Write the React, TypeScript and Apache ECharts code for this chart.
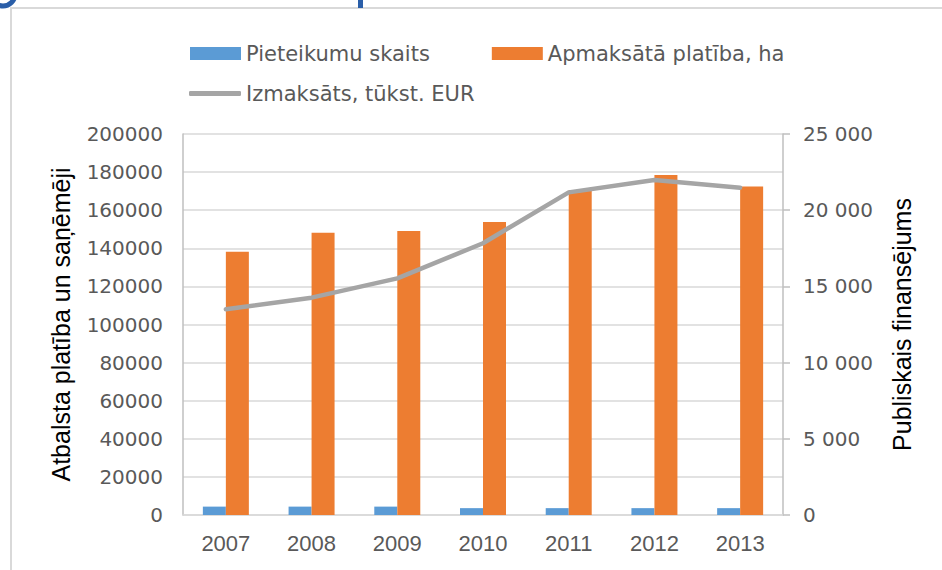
import React, { useEffect, useRef } from "react";
import * as echarts from "echarts";

const years = ["2007", "2008", "2009", "2010", "2011", "2012", "2013"];
const applications = [4400, 4400, 4400, 3600, 3600, 3600, 3600];
const paidArea = [138200, 148200, 149100, 153800, 170600, 178500, 172500];
const paidOut = [13500, 14260, 15530, 17830, 21170, 21980, 21480];

const nameApps = "Pieteikumu skaits";
const nameArea = "Apmaksātā platība, ha";
const namePaid = "Izmaksāts, tūkst. EUR";

const txt = "#595959";
const font = "Liberation Sans, Arial, sans-serif";
const wideFont = "DejaVu Sans, Liberation Sans, sans-serif";

export default function App() {
  const ref = useRef<HTMLDivElement>(null);
  useEffect(() => {
    if (!ref.current) return;
    const chart = echarts.init(ref.current, undefined, { renderer: "svg" });
    chart.setOption({
      animation: false,
      backgroundColor: "#ffffff",
      textStyle: { fontFamily: font, color: txt },
      graphic: [
        { type: "line", shape: { x1: 10, y1: 8, x2: 942, y2: 8 }, style: { stroke: "#d9d9d9", lineWidth: 2 } },
        { type: "line", shape: { x1: 11, y1: 8, x2: 11, y2: 570 }, style: { stroke: "#d9d9d9", lineWidth: 2 } },
        { type: "arc", shape: { cx: 3, cy: -6, r: 12, startAngle: 0, endAngle: Math.PI }, style: { stroke: "#2a5ea8", lineWidth: 5, fill: "none" } },
        { type: "rect", shape: { x: 358, y: 0, width: 5, height: 8 }, style: { fill: "#2a5ea8" } },
      ],
      legend: [
        {
          data: [nameApps, nameArea],
          left: 185,
          top: 38,
          itemWidth: 51,
          itemHeight: 13,
          itemGap: 62,
          icon: "rect",
          textStyle: { fontSize: 21, color: txt, fontFamily: wideFont },
        },
        {
          data: [{ name: namePaid, icon: "roundRect" }],
          left: 184,
          top: 78,
          itemWidth: 52,
          itemHeight: 5,
          textStyle: { fontSize: 21, color: txt, fontFamily: wideFont },
        },
      ],
      grid: { left: 183, right: 159, top: 134, bottom: 55 },
      xAxis: {
        type: "category",
        data: years,
        axisLine: { show: true, lineStyle: { color: "#d9d9d9", width: 1.5 } },
        axisTick: { show: false },
        axisLabel: { fontSize: 22, color: txt, margin: 17, fontFamily: font },
      },
      yAxis: [
        {
          type: "value",
          min: 0,
          max: 200000,
          interval: 20000,
          name: "Atbalsta platība un saņēmēji",
          nameLocation: "middle",
          nameRotate: 90,
          nameGap: 110,
          nameTextStyle: { fontSize: 25, color: "#000000", fontFamily: font },
          axisLine: { show: true, lineStyle: { color: "#bfbfbf", width: 1.5 } },
          axisTick: { show: false },
          axisLabel: {
            fontSize: 20,
            color: txt,
            margin: 20,
            fontFamily: wideFont,
            formatter: (v: number) => String(v),
          },
          splitLine: { show: true, lineStyle: { color: "#d9d9d9", width: 1.5 } },
        },
        {
          type: "value",
          min: 0,
          max: 25000,
          interval: 5000,
          name: "Publiskais finansējums",
          nameLocation: "middle",
          nameRotate: 90,
          nameGap: 106,
          nameTextStyle: { fontSize: 25, color: "#000000", fontFamily: font },
          axisLine: { show: true, lineStyle: { color: "#bfbfbf", width: 1.5 } },
          axisTick: { show: true, length: 7, lineStyle: { color: "#bfbfbf", width: 1.5 } },
          axisLabel: {
            fontSize: 20,
            color: txt,
            margin: 20,
            fontFamily: wideFont,
            formatter: (v: number) => String(v).replace(/\B(?=(\d{3})+(?!\d))/g, " "),
          },
          splitLine: { show: false },
        },
      ],
      series: [
        {
          name: nameApps,
          type: "bar",
          data: applications,
          barWidth: 23,
          barGap: "0%",
          itemStyle: { color: "#5b9bd5" },
        },
        {
          name: nameArea,
          type: "bar",
          data: paidArea,
          barWidth: 23,
          barGap: "0%",
          itemStyle: { color: "#ed7d31" },
        },
        {
          name: namePaid,
          type: "line",
          yAxisIndex: 1,
          data: paidOut,
          symbol: "none",
          smooth: false,
          lineStyle: { color: "#a5a5a5", width: 4.5, cap: "round", join: "round" },
          itemStyle: { color: "#a5a5a5" },
        },
      ],
    });
    return () => chart.dispose();
  }, []);
  return <div ref={ref} style={{ width: 942, height: 570, position: "absolute", left: 0, top: 0 }} />;
}
